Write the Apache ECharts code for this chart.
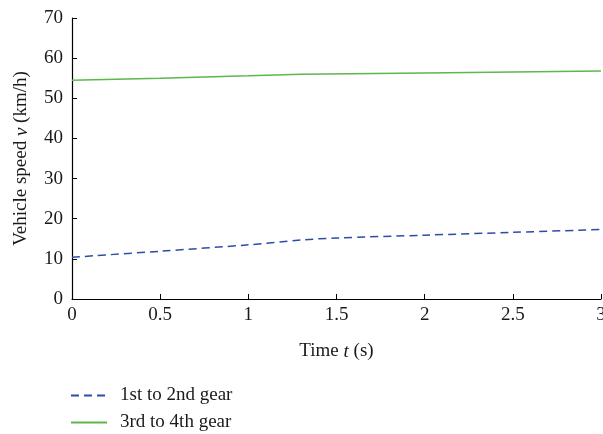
<!DOCTYPE html>
<html><head><meta charset="utf-8">
<script src="https://cdn.jsdelivr.net/npm/echarts@6/dist/echarts.min.js"></script>
<style>html,body{margin:0;padding:0;background:#fff;overflow:hidden}#c{width:603px;height:434px}</style>
</head><body><div id="c"></div>
<script>
const seriesNames = ['1st to 2nd gear', '3rd to 4th gear'];
const timeBlue = [0, 0.5, 1, 1.3, 1.5, 2, 2.5, 3];
const speedBlue = [10.4, 11.9, 13.5, 14.7, 15.2, 15.9, 16.6, 17.3];
const timeGreen = [0, 0.5, 1, 1.3, 2, 2.5, 3];
const speedGreen = [54.5, 55.0, 55.6, 56.0, 56.3, 56.55, 56.8];
const font = 'Liberation Serif, DejaVu Serif, serif';
const txt = '#1a1a1a';
const legendBase = {
  orient: 'vertical', left: 70, itemWidth: 36, itemHeight: 12, padding: 0,
  itemStyle: {opacity: 0},
  textStyle: {fontFamily: font, fontSize: 19, color: txt, padding: [0, 0, 0, 8]}
};
const chart = echarts.init(document.getElementById('c'));
chart.setOption({
  animation: false,
  textStyle: {fontFamily: font},
  grid: {left: 72, right: 2, top: 18, bottom: 135, outerBoundsMode: 'none', containLabel: false},
  legend: [
    Object.assign({}, legendBase, {top: 386, data: [seriesNames[0]]}),
    Object.assign({}, legendBase, {top: 413, data: [seriesNames[1]]})
  ],
  xAxis: {
    type: 'value', min: 0, max: 3, interval: 0.5,
    name: '{n|Time }{i|t}{n| (s)}', nameLocation: 'middle', nameGap: 43,
    nameTextStyle: {rich: {n: {fontFamily: font, fontSize: 19, color: txt}, i: {fontFamily: font, fontSize: 19, fontStyle: 'italic', color: txt}}},
    axisLine: {lineStyle: {color: '#000', width: 1.2}},
    axisTick: {inside: true, length: 5, lineStyle: {color: '#000'}},
    axisLabel: {fontFamily: font, fontSize: 19, color: txt, margin: 7},
    splitLine: {show: false}
  },
  yAxis: {
    type: 'value', min: 0, max: 70, interval: 10,
    name: '{n|Vehicle speed }{i|v}{n| (km/h)}', nameLocation: 'middle', nameGap: 41, nameRotate: 90,
    nameTextStyle: {rich: {n: {fontFamily: font, fontSize: 19, color: txt}, i: {fontFamily: font, fontSize: 19, fontStyle: 'italic', color: txt}}},
    axisLine: {show: true, lineStyle: {color: '#000', width: 1.2}},
    axisTick: {show: true, inside: true, length: 5, lineStyle: {color: '#000'}},
    axisLabel: {fontFamily: font, fontSize: 19, color: txt, margin: 9},
    splitLine: {show: false}
  },
  series: [
    {name: seriesNames[0], type: 'line', symbol: 'none', smooth: 0.3,
     data: timeBlue.map((t, i) => [t, speedBlue[i]]),
     lineStyle: {color: '#2a4ea6', width: 1.5, type: [8, 5]}, itemStyle: {color: '#2a4ea6'}},
    {name: seriesNames[1], type: 'line', symbol: 'none',
     data: timeGreen.map((t, i) => [t, speedGreen[i]]),
     lineStyle: {color: '#5cb84a', width: 1.5}, itemStyle: {color: '#5cb84a'}}
  ]
});
</script></body></html>
